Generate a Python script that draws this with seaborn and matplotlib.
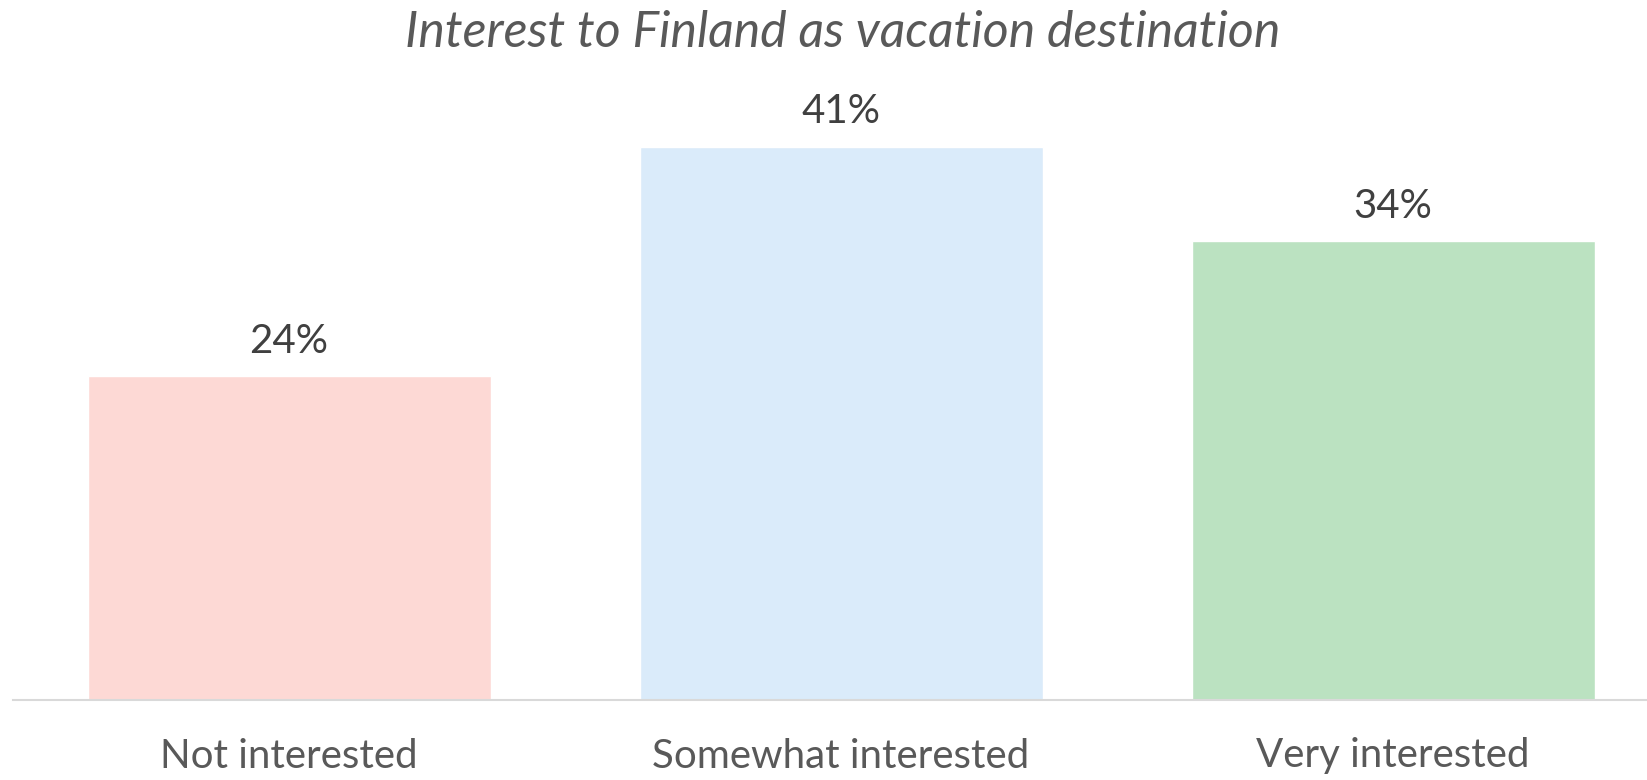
import matplotlib
matplotlib.use("Agg")
import matplotlib.pyplot as plt
from matplotlib import font_manager
import seaborn as sns
import pandas as pd

categories = ["Not interested", "Somewhat interested", "Very interested"]
values = [24, 41, 34]
bar_colors = ["#FDD9D5", "#DAEBFA", "#BBE2C1"]
title = "Interest to Finland as vacation destination"

sns.set_theme(style="white")
avail = {f.name for f in font_manager.fontManager.ttflist}
family = "Lato" if "Lato" in avail else "DejaVu Sans"
plt.rcParams["font.family"] = [family, "DejaVu Sans"]

df = pd.DataFrame({"cat": categories, "val": values})

fig = plt.figure(figsize=(16.47, 7.8), dpi=100)
ax = fig.add_axes([13 / 1647, 80 / 780, 1 - 13 / 1647, 1 - 80 / 780])
sns.barplot(data=df, x="cat", y="val", hue="cat", palette=bar_colors,
            width=0.73, legend=False, ax=ax, saturation=1)

ax.set_xlim(-0.5, 2.46)
ax.set_ylim(0, 51.9)
ax.set_xlabel("")
ax.set_ylabel("")
ax.set_yticks([])
for s in ["top", "right", "left"]:
    ax.spines[s].set_visible(False)
ax.spines["bottom"].set_color("#D9D9D9")
ax.spines["bottom"].set_linewidth(1.5)
ax.tick_params(axis="x", length=0, pad=27, labelsize=29, labelcolor="#595959")

for cont in ax.containers:
    ax.bar_label(cont, labels=[f"{v:.0f}%" for v in cont.datavalues],
                 padding=12, fontsize=29, color="#404040")

fig.text(843 / 1647, 1 - 33 / 780, title, ha="center", va="center",
         fontsize=36, style="italic", color="#595959")

fig.savefig("out.png", dpi=100)
